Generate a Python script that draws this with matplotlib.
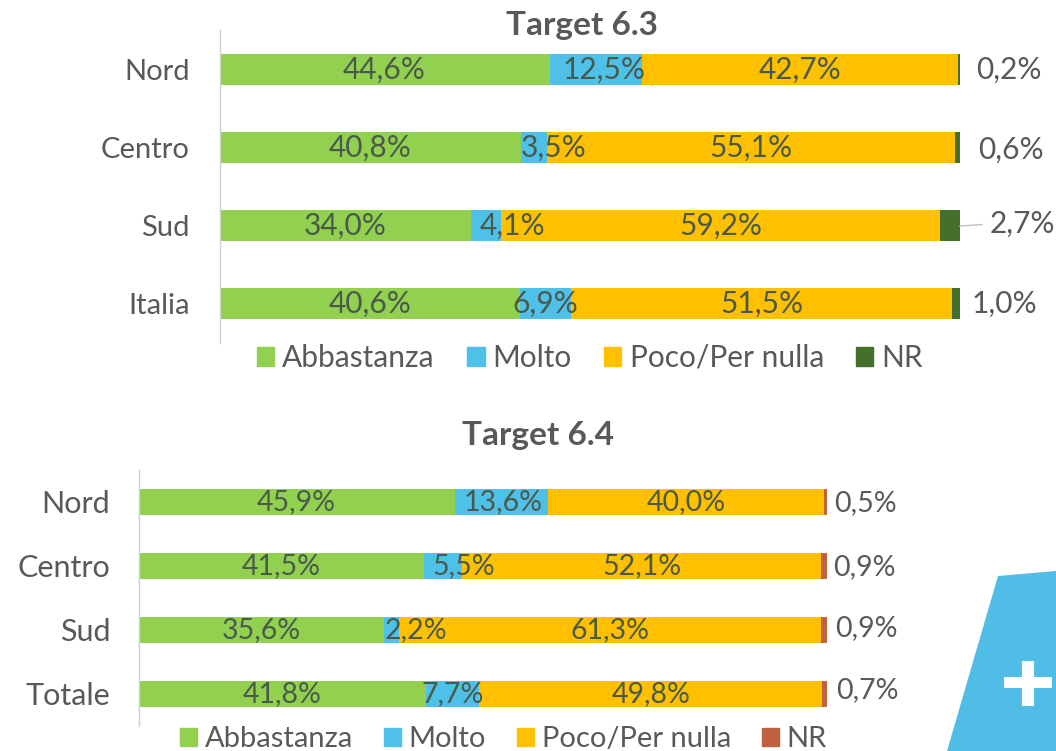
import matplotlib
matplotlib.use("Agg")
import matplotlib.pyplot as plt
from matplotlib.patches import Patch, Polygon, Rectangle
from matplotlib.transforms import Affine2D

plt.rcParams['font.family'] = ['Lato', 'DejaVu Sans']

W, H = 1056, 751
series = ['Abbastanza', 'Molto', 'Poco/Per nulla', 'NR']

cat_63 = ['Nord', 'Centro', 'Sud', 'Italia']
abb_63 = [44.6, 40.8, 34.0, 40.6]
mol_63 = [12.5, 3.5, 4.1, 6.9]
poc_63 = [42.7, 55.1, 59.2, 51.5]
nr_63 = [0.2, 0.6, 2.7, 1.0]

cat_64 = ['Nord', 'Centro', 'Sud', 'Totale']
abb_64 = [45.9, 41.5, 35.6, 41.8]
mol_64 = [13.6, 5.5, 2.2, 7.7]
poc_64 = [40.0, 52.1, 61.3, 49.8]
nr_64 = [0.5, 0.9, 0.9, 0.7]

GREEN, BLUE, ORANGE = '#92D050', '#4FC0E8', '#FFC000'
TICK, LABEL = '#595959', '#4A5A4A'

fig = plt.figure(figsize=(W / 100, H / 100), dpi=100, facecolor='white')


def px_axes(l, t, r, b):
    return fig.add_axes([l / W, 1 - b / H, (r - l) / W, (b - t) / H])


def draw(box, cats, rows, nr_col, title, title_xy, mol_dx, nr_pos, legend_xy, bar_h,
         fs, tick_fs, leg_fs, col_sp, pad, leader=None):
    ax = px_axes(*box)
    colors = [GREEN, BLUE, ORANGE, nr_col]
    left = [0.0] * len(cats)
    for vals, col, name in zip(rows, colors, series):
        ax.barh(range(len(cats)), vals, left=left, height=bar_h, color=col, label=name, linewidth=0)
        for i, v in enumerate(vals):
            txt = f'{v:.1f}%'.replace('.', ',')
            c = left[i] + v / 2
            if name == 'NR':
                x, y = nr_pos[i]
                ax.text(x / W, 1 - y / H, txt, transform=fig.transFigure, ha='left', va='center',
                        fontsize=fs, color=TICK)
            else:
                dx = mol_dx[i] if name == 'Molto' else 0
                ax.annotate(txt, (c, i), xytext=(dx * 0.72, -0.5), textcoords='offset points',
                            ha='center', va='center', fontsize=fs, color=LABEL)
            left[i] += v
    ax.set_xlim(0, 100)
    ax.set_ylim(len(cats) - 0.5, -0.5)
    ax.set_yticks(range(len(cats)), cats)
    ax.tick_params(axis='y', length=0, pad=pad, labelsize=tick_fs, labelcolor=TICK)
    ax.xaxis.set_visible(False)
    for s in ['top', 'right', 'bottom']:
        ax.spines[s].set_visible(False)
    ax.spines['left'].set_color('#D0D0D0')
    ax.spines['left'].set_linewidth(1)
    ax.patch.set_alpha(0)
    fig.text(title_xy[0] / W, 1 - title_xy[1] / H, title, ha='center', va='center',
             fontsize=24, fontweight='bold', color='#595959')
    handles = [Patch(color=c, label=n) for c, n in zip(colors, series)]
    fig.legend(handles=handles, loc='center left', ncol=4, frameon=False,
               bbox_to_anchor=(legend_xy[0] / W, 1 - legend_xy[1] / H),
               fontsize=leg_fs, labelcolor=TICK, handlelength=0.58, handleheight=0.58,
               handletextpad=0.27, columnspacing=col_sp, borderpad=0, borderaxespad=0)
    if leader:
        fig.add_artist(plt.Line2D([leader[0] / W, leader[2] / W], [1 - leader[1] / H, 1 - leader[3] / H],
                                  color='#BFBFBF', lw=1))
    return ax


draw((219.5, 30.3, 959.6, 342.5), cat_63, [abb_63, mol_63, poc_63, nr_63], '#44702C',
     'Target 6.3', (582, 25), [8, 19, 26, 0], [(976, 70), (978, 150), (990, 224), (972, 304)],
     (257, 358), 0.40, 21.5, 21, 21.5, 1.08, 21.5, leader=(960, 226, 982, 224.5))
draw((138.7, 469.7, 827, 725.7), cat_64, [abb_64, mol_64, poc_64, nr_64], '#C0623F',
     'Target 6.4', (538, 435), [2, 20, 25, 0], [(834, 503), (833, 567), (835, 628), (836, 690)],
     (180, 739), 0.40, 20.5, 22, 21, 1.06, 20.5)

# decorative logo fragment at the lower right of the reference
px = Affine2D().scale(1, -1).translate(0, H)
fig.add_artist(Polygon([(998, 576), (1056, 571), (1056, 751), (947, 751)], closed=True,
                       facecolor='#4FBDE6', edgecolor='none', transform=px))
fig.add_artist(Rectangle((1004, 677), 48, 11, facecolor='white', edgecolor='none', transform=px))
fig.add_artist(Rectangle((1022, 661), 12, 45, facecolor='white', edgecolor='none', transform=px))

fig.savefig('out.png', dpi=100)
